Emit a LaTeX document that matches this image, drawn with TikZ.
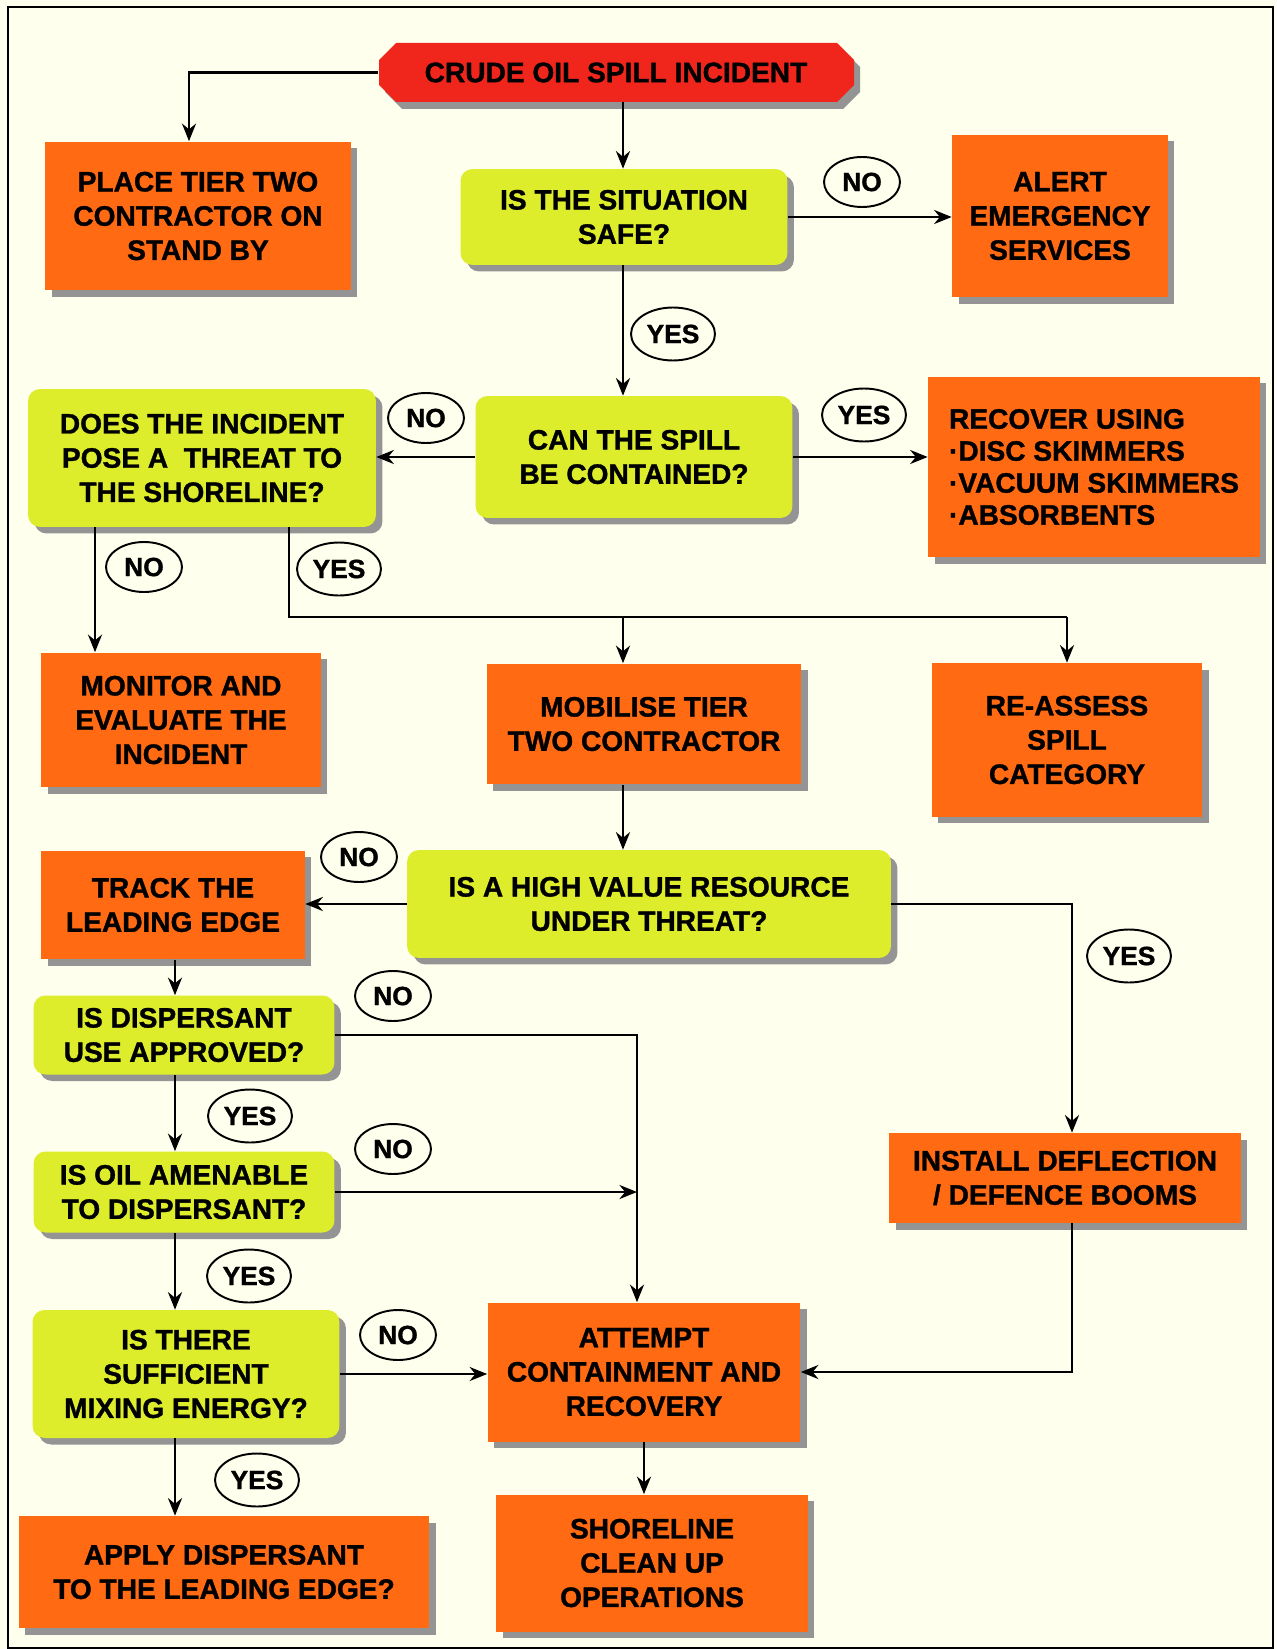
\documentclass[tikz,border=0pt]{standalone}
\usepackage{fontspec}
\setmainfont{Liberation Sans}[BoldFeatures={FakeBold=1.2}]
\usetikzlibrary{shapes.geometric,shadows,arrows.meta}
\definecolor{spillred}{HTML}{F0261C}
\definecolor{actorange}{HTML}{FF6A12}
\definecolor{askyellow}{HTML}{DDEC2B}
\definecolor{paper}{HTML}{FFFFEE}

\begin{document}
\begin{tikzpicture}[x=0.02cm, y=-0.02cm,
  box/.style={font=\fontsize{16}{19.5}\selectfont\bfseries, align=center,
             inner sep=2pt,
             drop shadow={shadow xshift=0.13cm, shadow yshift=-0.13cm,
                          fill=black!42, opacity=1}},
  start/.style={rectangle, font=\fontsize{16}{19.5}\selectfont\bfseries,
             inner sep=2pt},
  act/.style={box, rectangle, fill=actorange},
  ask/.style={box, rectangle, rounded corners=0.24cm, fill=askyellow},
  ans/.style={ellipse, draw=black, line width=1.1pt, fill=paper, inner sep=0pt,
             minimum width=1.52cm, minimum height=1cm,
             font=\fontsize{15}{18}\selectfont\bfseries},
  yesans/.style={ans, minimum width=1.68cm, minimum height=1.06cm},
  flow/.style={line width=1.3pt, -{Stealth[length=10pt, width=8pt]}},
  wire/.style={line width=1.3pt},
]
\useasboundingbox (0,0) rectangle (1276,1649);
\fill[paper] (0,0) rectangle (1276,1649);
\draw[line width=1.2pt] (8,7) rectangle (1273,1648);

% chamfered start box, shadow first
\fill[black!42] (385,67) -- (402,50) -- (843,50) -- (860,67) -- (860,92)
  -- (843,109) -- (402,109) -- (385,92) -- cycle;
\fill[spillred] (379,60) -- (396,43) -- (837,43) -- (854,60) -- (854,85)
  -- (837,102) -- (396,102) -- (379,85) -- cycle;
\node[start, minimum width=9.5cm, minimum height=1.18cm] (crude) at (616,72.5)
  {CRUDE OIL SPILL INCIDENT};

\node[act, minimum width=6.12cm, minimum height=2.98cm] (standby) at (198,216)
  {PLACE TIER TWO\\CONTRACTOR ON\\STAND BY};
\node[ask, minimum width=6.54cm, minimum height=1.92cm] (safe) at (624,217)
  {IS THE SITUATION\\SAFE?};
\node[act, minimum width=4.32cm, minimum height=3.26cm] (alert) at (1060,216)
  {ALERT\\EMERGENCY\\SERVICES};
\node[ask, minimum width=6.96cm, minimum height=2.76cm] (threat) at (202,458)
  {DOES THE INCIDENT\\POSE A \ THREAT TO\\THE SHORELINE?};
\node[ask, minimum width=6.34cm, minimum height=2.44cm] (contain) at (634,457)
  {CAN THE SPILL\\BE CONTAINED?};
\node[act, minimum width=6.64cm, minimum height=3.62cm, align=left,
      font=\fontsize{16}{18.2}\selectfont\bfseries] (recover) at (1094,467)
  {RECOVER USING\\\textperiodcentered DISC SKIMMERS\\\textperiodcentered VACUUM SKIMMERS\\\textperiodcentered ABSORBENTS};
\node[act, minimum width=5.6cm, minimum height=2.7cm] (monitor) at (181,720)
  {MONITOR AND\\EVALUATE THE\\INCIDENT};
\node[act, minimum width=6.3cm, minimum height=2.42cm] (mobilise) at (644,724)
  {MOBILISE TIER\\TWO CONTRACTOR};
\node[act, minimum width=5.42cm, minimum height=3.08cm] (reassess) at (1067,740)
  {RE-ASSESS\\SPILL\\CATEGORY};
\node[act, minimum width=5.28cm, minimum height=2.18cm] (track) at (173,905)
  {TRACK THE\\LEADING EDGE};
\node[ask, minimum width=9.68cm, minimum height=2.16cm] (resource) at (649,904)
  {IS A HIGH VALUE RESOURCE\\UNDER THREAT?};
\node[ask, minimum width=6.02cm, minimum height=1.58cm] (approved) at (184,1035)
  {IS DISPERSANT\\USE APPROVED?};
\node[ask, minimum width=6.02cm, minimum height=1.62cm] (amenable) at (184,1192)
  {IS OIL AMENABLE\\TO DISPERSANT?};
\node[act, minimum width=7.04cm, minimum height=1.8cm] (booms) at (1065,1178)
  {INSTALL DEFLECTION\\/ DEFENCE BOOMS};
\node[ask, minimum width=6.14cm, minimum height=2.56cm] (mixing) at (186,1374)
  {IS THERE\\SUFFICIENT\\MIXING ENERGY?};
\node[act, minimum width=6.26cm, minimum height=2.78cm] (attempt) at (644,1372)
  {ATTEMPT\\CONTAINMENT AND\\RECOVERY};
\node[act, minimum width=8.22cm, minimum height=2.24cm] (apply) at (224,1572)
  {APPLY DISPERSANT\\TO THE LEADING EDGE?};
\node[act, minimum width=6.24cm, minimum height=2.74cm] (cleanup) at (652,1563)
  {SHORELINE\\CLEAN UP\\OPERATIONS};

% columns the vertical connectors run along
\coordinate (colA) at (175,0);
\coordinate (colN) at (95,0);
\coordinate (colY) at (289,0);
\coordinate (colM) at (623,0);
\coordinate (colR) at (637,0);
\coordinate (colE) at (1072,0);
\coordinate (bus)  at (0,617);

\draw[flow] (crude.west) -| ([xshift=-0.18cm]standby.north);
\draw[flow] (crude.south -| colM) -- (safe.north -| colM);
\draw[flow] (safe.east) -- (safe.east -| alert.west);
\draw[flow] (safe.south -| colM) -- (contain.north -| colM);
\draw[flow] (contain.west) -- (contain.west -| threat.east);
\draw[flow] (contain.east) -- (contain.east -| recover.west);
\draw[flow] (threat.south -| colN) -- (monitor.north -| colN);
\draw[wire] (threat.south -| colY) |- (bus -| reassess.north);
\draw[flow] (bus -| reassess.north) -- (reassess.north);
\draw[flow] (bus -| colM) -- (mobilise.north -| colM);
\draw[flow] (mobilise.south -| colM) -- (resource.north -| colM);
\draw[flow] (resource.west) -- (resource.west -| track.east);
\draw[flow] (resource.east) -| (booms.north -| colE);
\draw[flow] (booms.south -| colE) |- (attempt.east);
\draw[flow] (track.south -| colA) -- (approved.north -| colA);
\draw[flow] (approved.south -| colA) -- (amenable.north -| colA);
\draw[flow] (amenable.south -| colA) -- (mixing.north -| colA);
\draw[flow] (mixing.south -| colA) -- (apply.north -| colA);
\draw[flow] (approved.east) -| (attempt.north -| colR);
\draw[flow] (amenable.east) -- (amenable.east -| colR);
\draw[flow] (mixing.east) -- (mixing.east -| attempt.west);
\draw[flow] (attempt.south) -- (attempt.south |- cleanup.north);

% answer labels
\node[ans]    (noAlert)     at (862,182)  {NO};
\node[yesans] (yesSafe)     at (673,334)  {YES};
\node[ans]    (noContain)   at (426,418)  {NO};
\node[yesans] (yesContain)  at (864,415)  {YES};
\node[ans]    (noThreat)    at (144,567)  {NO};
\node[yesans] (yesThreat)   at (339,569)  {YES};
\node[ans]    (noResource)  at (359,857)  {NO};
\node[yesans] (yesResource) at (1129,956) {YES};
\node[ans]    (noApproved)  at (393,996)  {NO};
\node[yesans] (yesApproved) at (250,1116) {YES};
\node[ans]    (noAmenable)  at (393,1149) {NO};
\node[yesans] (yesAmenable) at (249,1276) {YES};
\node[ans]    (noMixing)    at (398,1335) {NO};
\node[yesans] (yesMixing)   at (257,1480) {YES};
\end{tikzpicture}
\end{document}
